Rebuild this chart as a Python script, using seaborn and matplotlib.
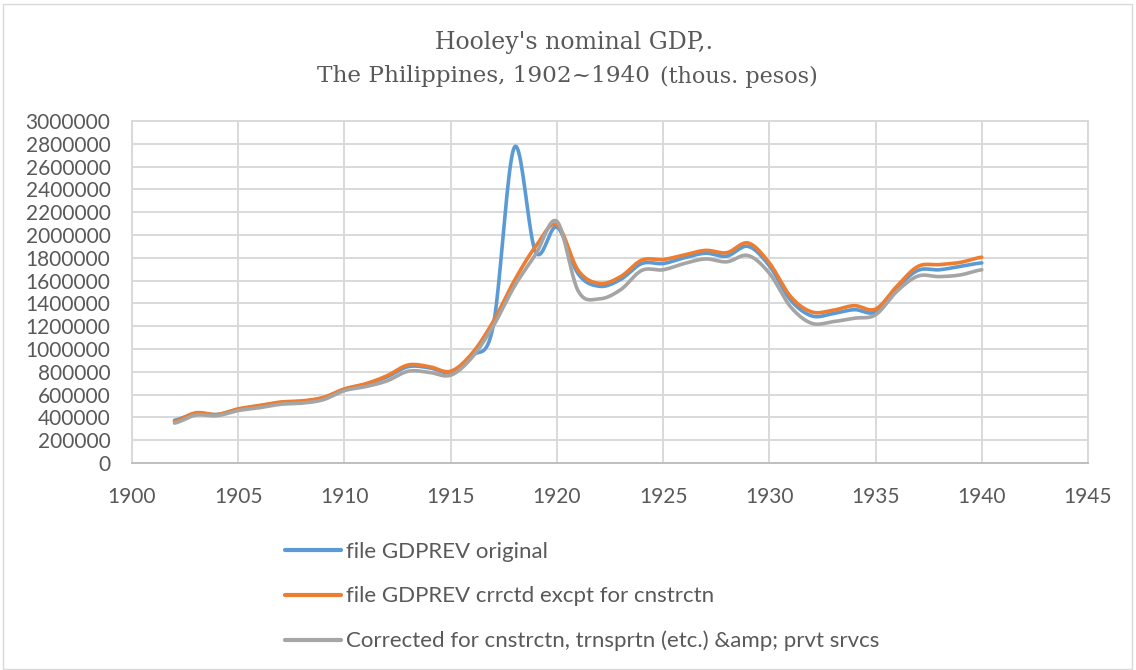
import numpy as np
import pandas as pd
import matplotlib.pyplot as plt
import seaborn as sns
from matplotlib.patches import Rectangle

#DATA
years = list(range(1902, 1941))

original = [375, 435, 425, 470, 500, 530, 540, 570, 645, 690,
            755, 845, 835, 795, 940, 1200, 2770, 1850, 2070, 1660,
            1550, 1610, 1750, 1750, 1800, 1840, 1815, 1900, 1730, 1430,
            1290, 1310, 1345, 1325, 1535, 1690, 1695, 1725, 1755]

crrctd = [365, 440, 425, 475, 505, 535, 545, 575, 650, 695,
          765, 860, 845, 805, 960, 1240, 1600, 1900, 2090, 1690,
          1575, 1635, 1780, 1785, 1825, 1865, 1845, 1930, 1755, 1460,
          1325, 1340, 1380, 1350, 1550, 1725, 1740, 1760, 1805]

corrected = [350, 420, 415, 460, 485, 515, 525, 555, 635, 670,
             720, 805, 795, 770, 925, 1200, 1550, 1830, 2120, 1510,
             1440, 1520, 1690, 1695, 1750, 1790, 1765, 1820, 1665, 1370,
             1225, 1240, 1270, 1300, 1505, 1640, 1635, 1650, 1695]

series_names = ["file GDPREV original",
                "file GDPREV crrctd excpt for cnstrctn",
                "Corrected for cnstrctn, trnsprtn (etc.) &amp; prvt srvcs"]
series_values = [original, crrctd, corrected]
colors = ["#5B9BD5", "#ED7D31", "#A5A5A5"]

y_ticks = list(range(0, 3000001, 200000))
x_ticks = list(range(1900, 1946, 5))


#SMOOTH LINE (like excel "smoothed line")
def smooth(x, y, n=20):
    x = np.asarray(x, dtype=float)
    y = np.asarray(y, dtype=float)
    px = np.concatenate([[2 * x[0] - x[1]], x, [2 * x[-1] - x[-2]]])
    py = np.concatenate([[y[0]], y, [y[-1]]])
    out_x, out_y = [], []
    t = np.linspace(0, 1, n, endpoint=False)
    for i in range(1, len(px) - 2):
        x0, x1, x2, x3 = px[i - 1:i + 3]
        y0, y1, y2, y3 = py[i - 1:i + 3]
        # bezier control points, tension 1/6
        cx1, cy1 = x1 + (x2 - x0) / 6, y1 + (y2 - y0) / 6
        cx2, cy2 = x2 - (x3 - x1) / 6, y2 - (y3 - y1) / 6
        bx = (1 - t) ** 3 * x1 + 3 * (1 - t) ** 2 * t * cx1 + 3 * (1 - t) * t ** 2 * cx2 + t ** 3 * x2
        by = (1 - t) ** 3 * y1 + 3 * (1 - t) ** 2 * t * cy1 + 3 * (1 - t) * t ** 2 * cy2 + t ** 3 * y2
        out_x.extend(bx)
        out_y.extend(by)
    out_x.append(x[-1])
    out_y.append(y[-1])
    return out_x, out_y


rows = []
for name, vals in zip(series_names, series_values):
    sx, sy = smooth(years, [v * 1000 for v in vals])
    for a, b in zip(sx, sy):
        rows.append({"year": a, "gdp": b, "series": name})
df = pd.DataFrame(rows)

#PLOT
sns.set_style("white")
plt.rcParams["font.family"] = ["Lato", "DejaVu Sans"]

fig = plt.figure(figsize=(11.36, 6.7), dpi=100)
ax = fig.add_axes([132 / 1136, 1 - 463 / 670, (1088 - 132) / 1136, (463 - 121) / 670])

sns.lineplot(data=df, x="year", y="gdp", hue="series", hue_order=series_names,
             palette=colors, estimator=None, sort=False, linewidth=2.6, ax=ax)

ax.set_xlim(1900, 1945)
ax.set_ylim(0, 3000000)
ax.set_xticks(x_ticks)
ax.set_yticks(y_ticks)
ax.set_yticklabels([str(v) for v in y_ticks])
ax.set_xlabel("")
ax.set_ylabel("")
ax.grid(True, color="#D9D9D9", linewidth=1.4)
ax.set_axisbelow(True)
for s in ax.spines.values():
    s.set_color("#D9D9D9")
    s.set_linewidth(1.4)
ax.spines["bottom"].set_color("#BFBFBF")
ax.tick_params(length=0, labelsize=15, labelcolor="#595959")
ax.tick_params(axis="x", pad=17)
ax.tick_params(axis="y", pad=15.5)

#LEGEND
handles, labels = ax.get_legend_handles_labels()
ax.legend_.remove()
leg = fig.legend(handles, labels, loc="upper left", bbox_to_anchor=(265 / 1136, 1 - 522 / 670),
                 frameon=False, fontsize=16, labelspacing=1.1, handlelength=2.5,
                 handletextpad=0.25, labelcolor="#595959")
for line in leg.get_lines():
    line.set_linewidth(3)

#TITLE
fig.text(574 / 1136, 1 - 43 / 670, "Hooley's nominal GDP,.", ha="center", va="center",
         family="DejaVu Serif", fontsize=17, color="#595959")
fig.text(657 / 1136, 1 - 76 / 670, "The Philippines, 1902~1940 ", ha="right", va="center",
         family="DejaVu Serif", fontsize=16.7, color="#595959")
fig.text(660 / 1136, 1 - 77 / 670, "(thous. pesos)", ha="left", va="center",
         family="DejaVu Serif", fontsize=16, color="#595959")

#BORDER
fig.patches.append(Rectangle((3 / 1136, 0.002), 1129 / 1136, 1 - 4 / 670 - 0.002, transform=fig.transFigure,
                             fill=False, edgecolor="#D9D9D9", linewidth=1))

fig.savefig("out.png", dpi=100)
print("Graphs Completed")
